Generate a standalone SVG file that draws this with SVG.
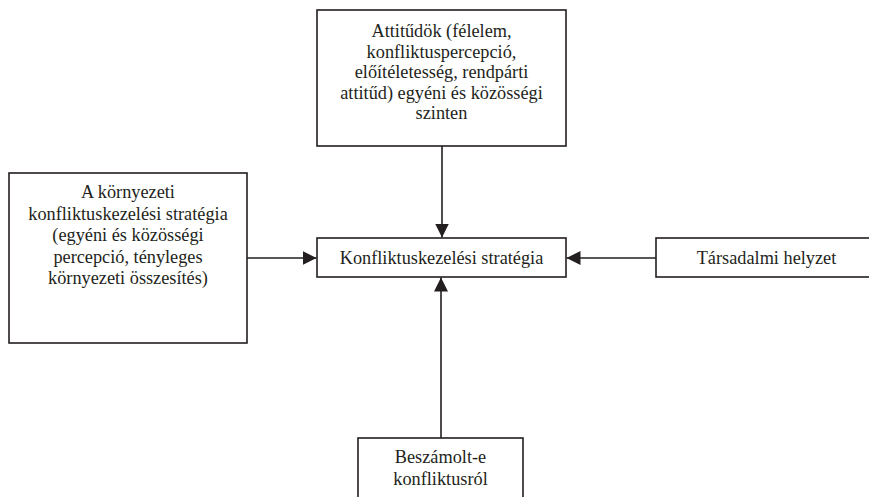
<svg xmlns="http://www.w3.org/2000/svg" width="869" height="497" viewBox="0 0 869 497">
<defs>
<style>
.box{fill:#fff;stroke:#231f20;stroke-width:1.6}
.lbl{font-family:"Liberation Serif","Times New Roman",serif;font-size:18.3px;fill:#231f20;text-anchor:middle}
.edge{stroke:#231f20;stroke-width:1.6;fill:none}
</style>
<marker id="arr" viewBox="0 0 14 14" refX="14" refY="7" markerWidth="14" markerHeight="14" markerUnits="userSpaceOnUse" orient="auto">
<path d="M0,0 L14,7 L0,14 Z" fill="#231f20"/>
</marker>
</defs>
<rect width="869" height="497" fill="#fff"/>
<g id="connectors">
<line class="edge" x1="442" y1="146" x2="442" y2="237.5" marker-end="url(#arr)"/>
<line class="edge" x1="247" y1="258" x2="316.5" y2="258" marker-end="url(#arr)"/>
<line class="edge" x1="656" y1="258" x2="566.5" y2="258" marker-end="url(#arr)"/>
<line class="edge" x1="441" y1="438" x2="441" y2="277.5" marker-end="url(#arr)"/>
</g>
<g id="node-attitudok">
<rect class="box" x="317" y="10" width="249" height="136"/>
<text class="lbl" x="441.5" y="37">Attitűdök (félelem,</text>
<text class="lbl" x="441.5" y="57.5">konfliktuspercepció,</text>
<text class="lbl" x="441.5" y="78">előítéletesség, rendpárti</text>
<text class="lbl" x="441.5" y="98.5">attitűd) egyéni és közösségi</text>
<text class="lbl" x="441.5" y="119">szinten</text>
</g>
<g id="node-kornyezeti">
<rect class="box" x="9" y="173" width="238" height="170"/>
<text class="lbl" x="128" y="198">A környezeti</text>
<text class="lbl" x="128" y="219.5">konfliktuskezelési stratégia</text>
<text class="lbl" x="128" y="241">(egyéni és közösségi</text>
<text class="lbl" x="128" y="262.5">percepció, tényleges</text>
<text class="lbl" x="128" y="284">környezeti összesítés)</text>
</g>
<g id="node-strategia">
<rect class="box" x="317" y="238" width="249" height="39"/>
<text class="lbl" x="441.5" y="263.5">Konfliktuskezelési stratégia</text>
</g>
<g id="node-tarsadalmi">
<rect class="box" x="656" y="238" width="225" height="39"/>
<text class="lbl" x="766.5" y="263.5">Társadalmi helyzet</text>
</g>
<g id="node-beszamolt">
<rect class="box" x="358" y="438" width="165" height="70"/>
<text class="lbl" x="440.5" y="463">Beszámolt-e</text>
<text class="lbl" x="440.5" y="484.5">konfliktusról</text>
</g>
</svg>
